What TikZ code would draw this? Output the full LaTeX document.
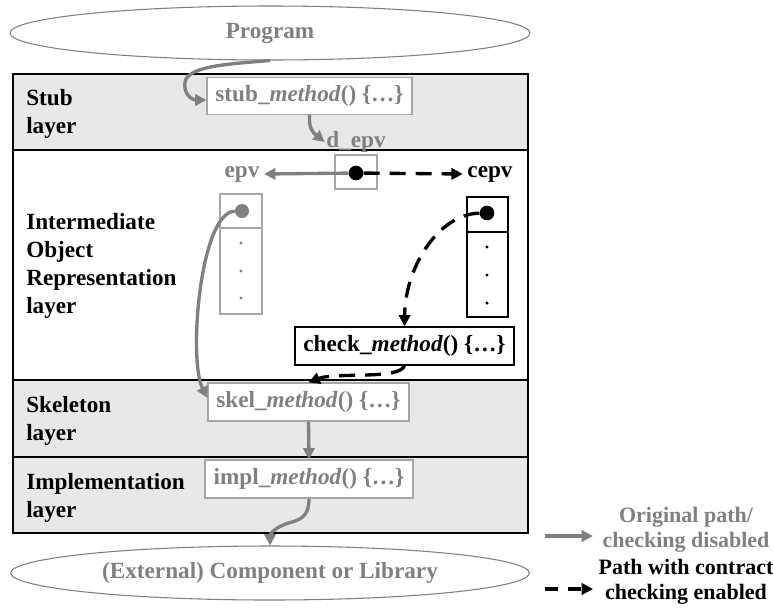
\documentclass[tikz,border=0pt]{standalone}
\usepackage{fontspec}
\setmainfont{Liberation Serif}
\usetikzlibrary{arrows.meta,shapes.geometric}
\definecolor{pathgray}{HTML}{808080}
\definecolor{boxgray}{HTML}{A6A6A6}
\definecolor{layerfill}{HTML}{E8E8E8}
\tikzset{
  txt/.style={font=\fontsize{17.4}{20.8}\selectfont\bfseries},
  lay/.style={txt,align=left,anchor=west,inner sep=0pt},
  layerbox/.style={fill=layerfill,draw=black,line width=1.1pt},
  gbox/.style={txt,draw=boxgray,fill=white,line width=0.9pt,text=pathgray,inner sep=0pt},
  kbox/.style={txt,draw=black,fill=white,line width=0.9pt,inner sep=0pt},
  oval/.style={ellipse,draw=pathgray,line width=0.8pt,fill=white,txt,text=pathgray,inner sep=0pt},
  dotk/.style={circle,fill=black,inner sep=0pt,minimum size=11pt},
  dotg/.style={circle,fill=pathgray,inner sep=0pt,minimum size=10.5pt},
  pip/.style={circle,inner sep=0pt,minimum size=2.6pt},
  garrow/.style={draw=pathgray,line width=2.5pt,-{Triangle[length=8.5pt,width=8.5pt]}},
  darrow/.style={draw=black,line width=2.5pt,dash pattern=on 12pt off 7.5pt,-{Triangle[length=8.5pt,width=8.5pt]}},
}
\begin{document}
\begin{tikzpicture}[x=0.75pt,y=-0.75pt]
\useasboundingbox (0,0) rectangle (773,607);

% layers
\draw[layerbox] (13,74) rectangle (528,150);
\draw[fill=white,draw=black,line width=1.1pt] (13,150) rectangle (528,380);
\draw[layerbox] (13,380) rectangle (528,457);
\draw[layerbox] (13,457) rectangle (528,533);

\node[lay] (lstub) at (26,114) {Stub\\layer};
\node[lay] (linter) at (26,266) {Intermediate\\Object\\Representation\\layer};
\node[lay] (lskel) at (26,421) {Skeleton\\layer};
\node[lay] (limpl) at (26,498) {Implementation\\layer};

% end points
\node[oval,minimum width=390pt,minimum height=40.5pt] (prog) at (270,33) {Program};
\node[oval,minimum width=389pt,minimum height=40.5pt] (lib) at (270,573) {(External) Component or Library};

% method boxes
\node[gbox,minimum width=153.75pt,minimum height=27.75pt] (stub) at (309.5,96) {stub\_\textit{method}() \{\dots\}};
\node[kbox,minimum width=164.25pt,minimum height=28.5pt] (check) at (404.5,346) {check\_\textit{method}() \{\dots\}};
\node[gbox,minimum width=150.75pt,minimum height=28.5pt] (skel) at (308.5,402) {skel\_\textit{method}() \{\dots\}};
\node[gbox,minimum width=156pt,minimum height=28.5pt] (impl) at (309,479) {impl\_\textit{method}() \{\dots\}};

% entry point vectors
\node[txt,text=pathgray,inner sep=1pt] (depvlbl) at (356,142) {d\_epv};
\node[draw=boxgray,line width=0.9pt,minimum width=31.5pt,minimum height=25.5pt,inner sep=0pt] (depv) at (356,172) {};
\node[txt,text=pathgray] (epv) at (242,174) {epv};
\node[txt] (cepv) at (490,174) {cepv};

\node[draw=boxgray,line width=0.9pt,minimum width=31.5pt,minimum height=90pt,inner sep=0pt] (epvcol) at (241,254) {};
\draw[boxgray,line width=0.9pt] (220,228) -- (262,228);
\node[draw=black,line width=0.9pt,minimum width=30.75pt,minimum height=90pt,inner sep=0pt] (cepvcol) at (487.5,257) {};
\draw[black,line width=0.9pt] (467,232) -- (508,232);

\foreach \y [count=\i] in {243,271,298} \node[pip,fill=pathgray] (gp\i) at (241,\y) {};
\foreach \y [count=\i] in {247,275,303} \node[pip,fill=black] (kp\i) at (487,\y) {};

\node[dotk] (ddot) at (356,173) {};
\node[dotg] (gdot) at (242,211) {};
\node[dotk] (cdot) at (487,213) {};

% original path
\draw[garrow] (prog.south) .. controls (228,64) and (188,66) .. (185,82)
  .. controls (183,94) and (192,100) .. ([yshift=-3pt]stub.west);
\draw[garrow] (stub.south) .. controls (309,126) and (311,131) .. (depvlbl.west);
\draw[garrow] (ddot) -- (epv.east);
\draw[garrow] (gdot) .. controls (200,212) and (188,360) .. ([yshift=3pt]skel.west);
\draw[garrow] (skel.south) -- (impl.north);
\draw[garrow] (impl.south) .. controls (309,515) and (302,519) .. (292,522)
  .. controls (276,526) and (270,534) .. (lib.north);

% contract checking path
\draw[darrow] (ddot) -- (cepv.west);
\draw[darrow] (cdot) .. controls (438,214) and (405,268) .. (check.north);
\draw[darrow] (check.south) .. controls (400,380) and (335,372) .. (skel.north);

% legend
\coordinate (g1) at (545,536);
\coordinate (g2) at (593,536);
\coordinate (k1) at (545,589);
\coordinate (k2) at (593,589);
\draw[garrow] (g1) -- (g2);
\draw[darrow,dash pattern=on 10pt off 7pt] (k1) -- (k2);
\node[txt,text=pathgray,align=center,font=\fontsize{16.5}{18.5}\selectfont\bfseries] (lg) at (686,530) {Original path/\\checking disabled};
\node[txt,align=center,font=\fontsize{16.5}{18.5}\selectfont\bfseries] (lk) at (686,582) {Path with contract\\checking enabled};
\end{tikzpicture}
\end{document}
